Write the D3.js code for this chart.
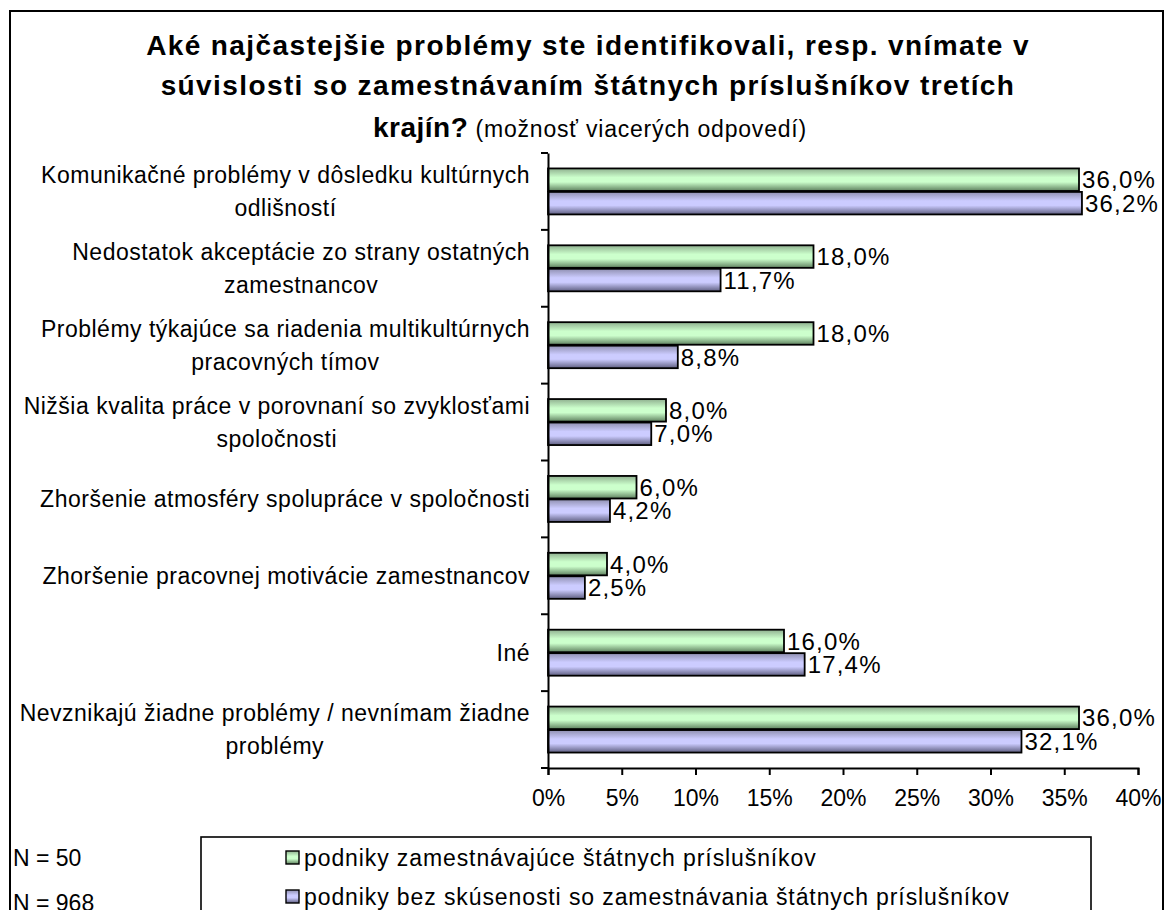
<!DOCTYPE html>
<html>
<head>
<meta charset="utf-8">
<script src="https://cdn.jsdelivr.net/npm/d3@7"></script>
<style>
    body { margin: 0; background: #fff; }
    svg text { font-family: "Liberation Sans", Arial, sans-serif; fill: #000; }
</style>
</head>
<body>
<div id="chart"></div>
<script>
// Data for grouped bar chart
const CATEGORIES = [
    "Komunikačné problémy v dôsledku kultúrnych\nodlišností",
    "Nedostatok akceptácie zo strany ostatných\nzamestnancov",
    "Problémy týkajúce sa riadenia multikultúrnych\npracovných tímov",
    "Nižšia kvalita práce v porovnaní so zvyklosťami\nspoločnosti",
    "Zhoršenie atmosféry spolupráce v spoločnosti",
    "Zhoršenie pracovnej motivácie zamestnancov",
    "Iné",
    "Nevznikajú žiadne problémy / nevnímam žiadne\nproblémy"
];
const SERIES = [
    "podniky zamestnávajúce štátnych príslušníkov",
    "podniky bez skúsenosti so zamestnávania štátnych príslušníkov"
];
const SAMPLE_SIZES = ["N = 50", "N = 968"];
const EMPLOYING = [36.0, 18.0, 18.0, 8.0, 6.0, 4.0, 16.0, 36.0];
const NOT_EMPLOYING = [36.2, 11.7, 8.8, 7.0, 4.2, 2.5, 17.4, 32.1];
const X_TICKS = [0, 5, 10, 15, 20, 25, 30, 35, 40];

const width = 1165;
const height = 910;
const colors = [
    { light: "#ccffcc", top: "#8fb08f", bottom: "#5e805e" },
    { light: "#ccccff", top: "#8f8fb0", bottom: "#5e5e80" }
];

let svg = d3.select("#chart")
    .append("svg")
    .attr("width", width)
    .attr("height", height);

// Gradients for the bars
const defs = svg.append("defs");
colors.forEach((c, i) => {
    const g = defs.append("linearGradient")
        .attr("id", "grad" + i)
        .attr("x1", 0).attr("y1", 0).attr("x2", 0).attr("y2", 1);
    g.append("stop").attr("offset", "0%").attr("stop-color", c.top);
    g.append("stop").attr("offset", "40%").attr("stop-color", c.light);
    g.append("stop").attr("offset", "60%").attr("stop-color", c.light);
    g.append("stop").attr("offset", "100%").attr("stop-color", c.bottom);
});

// Outer frame
svg.append("rect")
    .attr("x", 10).attr("y", 11)
    .attr("width", 1153).attr("height", 920)
    .attr("fill", "none")
    .attr("stroke", "#000")
    .attr("stroke-width", 2);

// Title
const title = svg.append("g").attr("class", "title");
const titleLines = [
    "Aké najčastejšie problémy ste identifikovali, resp. vnímate v",
    "súvislosti so zamestnávaním štátnych príslušníkov tretích"
];
titleLines.forEach((t, i) => {
    title.append("text")
        .attr("x", 588)
        .attr("y", 55 + i * 40)
        .attr("text-anchor", "middle")
        .attr("font-size", 28)
        .attr("letter-spacing", 1.4)
        .attr("font-weight", "bold")
        .text(t);
});
const t3 = title.append("text")
    .attr("x", 590)
    .attr("y", 137)
    .attr("text-anchor", "middle");
t3.append("tspan").attr("font-size", 28).attr("font-weight", "bold").attr("letter-spacing", 0.5).text("krajín?");
t3.append("tspan").attr("font-size", 23).attr("letter-spacing", 0.8).text(" (možnosť viacerých odpovedí)");

// Scales
const xScale = d3.scaleLinear()
    .domain([0, 40])
    .range([548, 1138]);

const yScale = d3.scaleBand()
    .domain(CATEGORIES)
    .range([153, 768]);

const bw = yScale.bandwidth();
const subScale = d3.scaleBand()
    .domain(SERIES)
    .range([bw / 2 - 23, bw / 2 + 23])
    .paddingInner(0.04);

// Bars
const rows = CATEGORIES.map((c, i) => ({ cat: c, values: [EMPLOYING[i], NOT_EMPLOYING[i]] }));

const rowGroup = svg.selectAll(".row")
    .data(rows)
  .enter().append("g")
    .attr("class", "row")
    .attr("transform", d => `translate(0, ${yScale(d.cat)})`);

rowGroup.selectAll("rect")
    .data(d => d.values.map((v, i) => ({ s: SERIES[i], v: v, i: i })))
  .enter().append("rect")
    .attr("x", xScale(0))
    .attr("y", d => subScale(d.s))
    .attr("width", d => xScale(d.v) - xScale(0))
    .attr("height", subScale.bandwidth())
    .attr("fill", d => `url(#grad${d.i})`)
    .attr("stroke", "#000")
    .attr("stroke-width", 1.8);

rowGroup.selectAll(".val")
    .data(d => d.values.map((v, i) => ({ s: SERIES[i], v: v, i: i })))
  .enter().append("text")
    .attr("class", "val")
    .attr("x", d => xScale(d.v) + 3)
    .attr("y", d => subScale(d.s) + subScale.bandwidth() / 2)
    .attr("dy", "0.36em")
    .attr("font-size", 24)
    .attr("letter-spacing", 1.2)
    .text(d => d.v.toFixed(1).replace(".", ",") + "%");

// Y axis
const yAxis = svg.append("g")
    .attr("transform", `translate(${xScale(0)}, 0)`)
    .call(d3.axisLeft(yScale).tickSize(0).tickFormat(""));
yAxis.select(".domain").attr("stroke", "#000").attr("stroke-width", 2);
yAxis.selectAll(".edge")
    .data(yScale.domain().map(d => yScale(d)).concat([yScale.range()[1]]))
  .enter().append("line")
    .attr("x1", -7).attr("x2", 0)
    .attr("y1", d => d).attr("y2", d => d)
    .attr("stroke", "#000")
    .attr("stroke-width", 2);

// Category labels
const labelRight = 530;
const labelGroup = svg.append("g").attr("class", "labels");
CATEGORIES.forEach(cat => {
    const lines = cat.split("\n");
    const cy = yScale(cat) + bw / 2;
    const texts = lines.map((l, i) => labelGroup.append("text")
        .attr("y", cy + (i - (lines.length - 1) / 2) * 33)
        .attr("dy", "0.36em")
        .attr("font-size", 23)
        .attr("letter-spacing", 0.5)
        .attr("text-anchor", "middle")
        .text(l));
    const maxW = d3.max(texts, t => t.node().getComputedTextLength());
    texts.forEach(t => t.attr("x", labelRight - maxW / 2));
});

// X axis
const xAxis = svg.append("g")
    .attr("transform", `translate(0, ${yScale.range()[1]})`)
    .call(d3.axisBottom(xScale).tickValues(X_TICKS).tickSize(7).tickPadding(15).tickFormat(d => d + "%"));
xAxis.select(".domain").attr("stroke", "#000").attr("stroke-width", 2);
xAxis.selectAll(".tick line").attr("stroke", "#000").attr("stroke-width", 2);
xAxis.selectAll(".tick text")
    .attr("font-size", 23)
    .attr("font-family", "Liberation Sans, Arial, sans-serif");
xAxis.append("line")
    .attr("x1", xScale(0) - 7).attr("x2", xScale(0))
    .attr("stroke", "#000").attr("stroke-width", 2);

// Legend
const legend = svg.append("g").attr("class", "legend");
legend.append("rect")
    .attr("x", 201).attr("y", 837)
    .attr("width", 890).attr("height", 100)
    .attr("fill", "none")
    .attr("stroke", "#000")
    .attr("stroke-width", 1.6);

SERIES.forEach((s, i) => {
    const ly = 858 + i * 39;
    legend.append("rect")
        .attr("x", 286).attr("y", ly - 7)
        .attr("width", 13).attr("height", 13)
        .attr("fill", `url(#grad${i})`)
        .attr("stroke", "#000")
        .attr("stroke-width", 1.4);
    legend.append("text")
        .attr("x", 304).attr("y", ly)
        .attr("dy", "0.36em")
        .attr("font-size", 23)
        .attr("letter-spacing", 0.9)
        .text(s);
    svg.append("text")
        .attr("x", 13).attr("y", ly + i * 6)
        .attr("dy", "0.36em")
        .attr("font-size", 23)
        .text(SAMPLE_SIZES[i]);
});
</script>
</body>
</html>
